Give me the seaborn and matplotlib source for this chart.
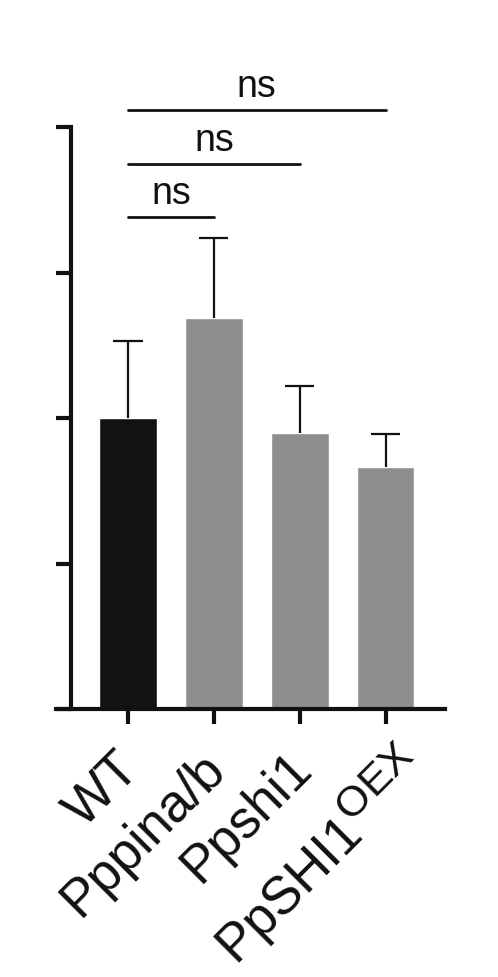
import numpy as np
import pandas as pd
import matplotlib
matplotlib.use("Agg")
import matplotlib.pyplot as plt
import matplotlib.transforms as mtransforms
import matplotlib._mathtext as _mt
import seaborn as sns

# superindice un poco mas grande que el de defecto
_mt.SHRINK_FACTOR = 0.82

# datos
grupos = ["WT", "Pppina/b", "Ppshi1", "PpSHI1OEX"]
etiquetas = ["WT", "Pppina/b", "Ppshi1", r"PpSHI1$^{\mathrm{OEX}}$"]
medias = [2.00, 2.69, 1.90, 1.66]
errores = [0.53, 0.55, 0.32, 0.23]
colores = ["#121212", "#8e8e91", "#8e8e91", "#8e8e91"]

# comparaciones (grupo a, grupo b, altura, texto)
comp_a = [0, 0, 0]
comp_b = [1, 2, 3]
comp_y = [3.38, 3.745, 4.12]
comp_txt = ["ns", "ns", "ns"]

sns.set_theme(style="white")
plt.rcParams["font.family"] = ["Liberation Sans", "DejaVu Sans"]
plt.rcParams["mathtext.fontset"] = "custom"
plt.rcParams["mathtext.rm"] = "Liberation Sans"

df = pd.DataFrame({"grupo": grupos, "media": medias})

fig = plt.figure(figsize=(4.98, 9.78), dpi=100)
ax = fig.add_axes([71 / 498, 1 - 710 / 978, (445 - 71) / 498, (710 - 128) / 978])

sns.barplot(data=df, x="grupo", y="media", hue="grupo", palette=colores,
            width=0.67, saturation=1, legend=False, ax=ax)

x = np.arange(len(grupos))
tops = np.array(medias) + np.array(errores)
ax.vlines(x, medias, tops, color="#111111", lw=1.6, zorder=3)
ax.hlines(tops, x - 0.17, x + 0.17, color="#111111", lw=1.6, zorder=3)

for a, b, yy, t in zip(comp_a, comp_b, comp_y, comp_txt):
    ax.plot([a, b], [yy, yy], color="#111111", lw=2, clip_on=False)
    ax.text((a + b) / 2, yy + 0.04, t, ha="center", va="bottom",
            fontsize=27, color="#111111", clip_on=False)

ax.set_xlim(-0.663, 3.69)
ax.set_ylim(0, 4)
ax.set_yticks([0, 1, 2, 3, 4])
ax.set_yticklabels([])
ax.set_xticks(x)
ax.set_xticklabels([])
ax.set_xlabel("")
ax.set_ylabel("")

# etiquetas giradas, colocadas bajo cada marca (la ultima va algo mas a la derecha)
desp_x = [-0.14, -0.14, -0.14, 0.08]
desp_y = [-0.33, -0.33, -0.33, -0.25]
for xi, lab, dx, dy in zip(x, etiquetas, desp_x, desp_y):
    trans = ax.get_xaxis_transform() + mtransforms.ScaledTranslation(dx, dy, fig.dpi_scale_trans)
    ax.text(xi, 0, lab, transform=trans, rotation=45, ha="right", va="top",
            rotation_mode="anchor", fontsize=38, color="#111111", clip_on=False)

sns.despine(ax=ax)
for s in ["left", "bottom"]:
    ax.spines[s].set_linewidth(3)
    ax.spines[s].set_color("#111111")
ax.spines["bottom"].set_bounds(-0.84, 3.69)
ax.tick_params(axis="both", length=11, width=3, color="#111111", bottom=True, left=True)

fig.savefig("out.png", dpi=100)
